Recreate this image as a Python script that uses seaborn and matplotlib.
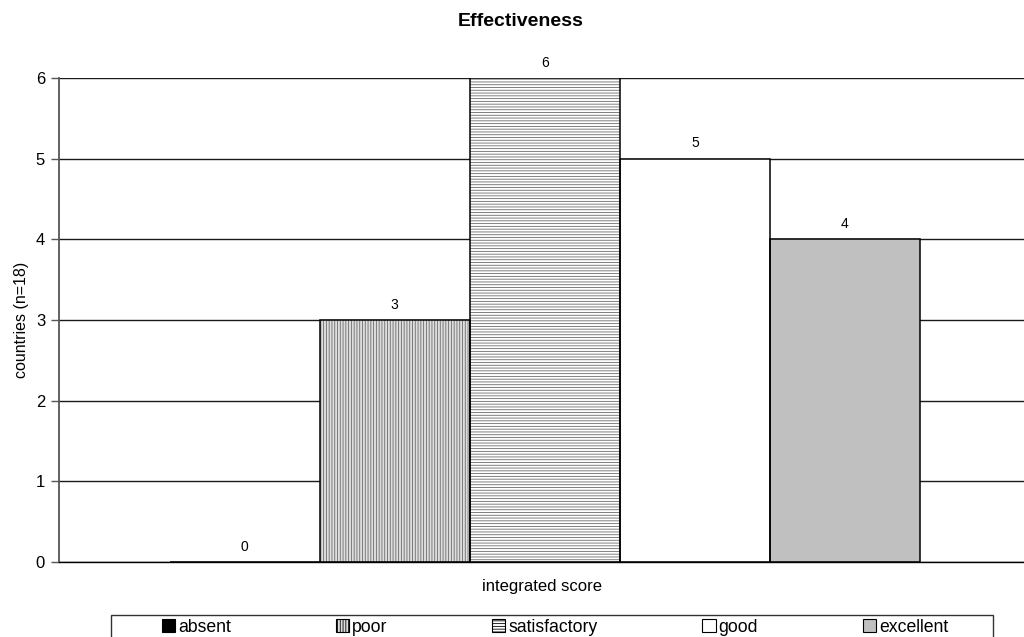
import pandas as pd
import seaborn as sns
import matplotlib.pyplot as plt
from matplotlib.patches import Patch, Rectangle

# données
niveaux = ['absent', 'poor', 'satisfactory', 'good', 'excellent']
nb_pays = [0, 3, 6, 5, 4]

# style des barres (une par niveau)
couleurs = ['black', '#dedede', 'white', 'white', '#c0c0c0']
hachures = [None, '||||||', '------', None, None]

df = pd.DataFrame({'groupe': 'integrated score', 'niveau': niveaux, 'pays': nb_pays})

sns.set_style('white')
plt.rcParams['font.family'] = ['Liberation Sans', 'DejaVu Sans']
plt.rcParams['hatch.linewidth'] = 0.6
plt.rcParams['text.color'] = 'black'
plt.rcParams['axes.labelcolor'] = 'black'
plt.rcParams['ytick.color'] = 'black'

fig = plt.figure(figsize=(10.24, 6.37), dpi=100)
ax = fig.add_axes([59 / 1024, 1 - 562 / 637, 1 - 59 / 1024, (562 - 78) / 637])

sns.barplot(data=df, x='groupe', y='pays', hue='niveau', hue_order=niveaux,
            palette=couleurs, width=0.8, dodge=True, saturation=1,
            edgecolor='#555555', linewidth=0, legend=False, ax=ax)

# hachures grises + contour noir par-dessus
for cont, h in zip(ax.containers, hachures):
    for p in cont:
        if h:
            p.set_hatch(h)
            p.set_edgecolor('#6a6a6a')
        ax.add_patch(Rectangle(p.get_xy(), p.get_width(), p.get_height(),
                               fill=False, ec='black', lw=1.1, zorder=3))
    ax.bar_label(cont, padding=6, fontsize=10, color='black')

ax.set_xlim(-0.518, 0.511)
ax.set_ylim(0, 6)
ax.set_yticks(range(7))
ax.yaxis.grid(True, color='#1a1a1a', lw=1)
ax.set_axisbelow(True)
ax.set_xticks([])
ax.tick_params(axis='y', left=True, length=6, width=1, color='#555555',
               labelcolor='black', labelsize=12, pad=4)
for s in ['top', 'right']:
    ax.spines[s].set_visible(False)
ax.spines['left'].set_color('#555555')
ax.spines['left'].set_linewidth(1.3)
ax.spines['bottom'].set_color('black')
ax.spines['bottom'].set_linewidth(1)

ax.set_xlabel('integrated score', fontsize=12, labelpad=12)
ax.set_ylabel('countries (n=18)', fontsize=11.5, labelpad=5)
fig.text(0.508, 1 - 22 / 637, 'Effectiveness', ha='center', va='center',
         fontsize=14, fontweight='bold', color='black')

# légende en bas, cadre dessiné à part
poignees = [Patch(facecolor=c, edgecolor='black', hatch=h, lw=0.8)
            for c, h in zip(couleurs, hachures)]
fig.legend(poignees, niveaux, ncol=5, mode='expand', frameon=False,
           bbox_to_anchor=(162 / 1024, 0, (948 - 162) / 1024, 2 * (637 - 627) / 637),
           loc='center', fontsize=12.7, handlelength=0.75, handleheight=0.75,
           handletextpad=0.15, borderpad=0, borderaxespad=0)
fig.add_artist(Rectangle((111 / 1024, -0.02), (993 - 111) / 1024, 0.02 + (637 - 615) / 637,
                         transform=fig.transFigure, fill=False, ec='#333333', lw=1))

plt.savefig('out.png', dpi=100)
